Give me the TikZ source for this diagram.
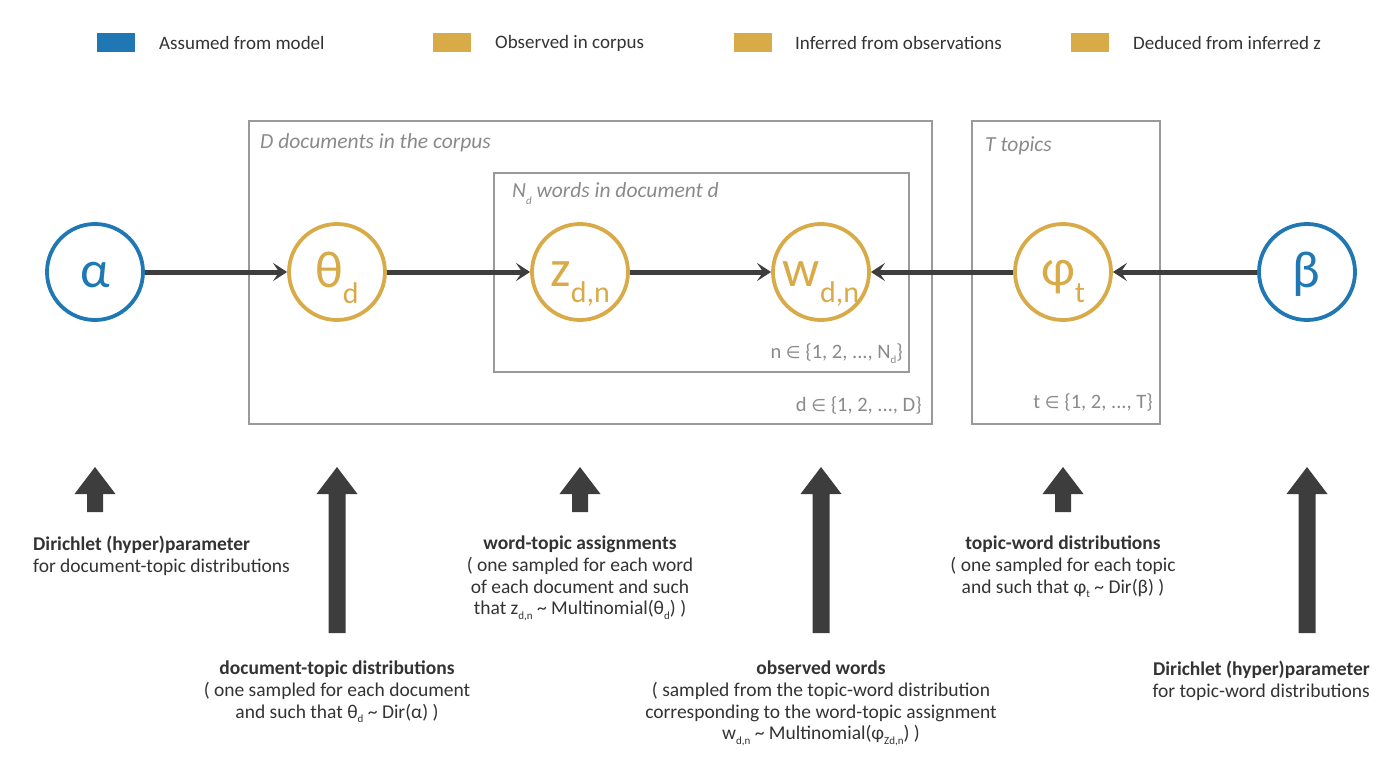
\documentclass[tikz,border=0pt]{standalone}
\usepackage{fontspec}
\setmainfont{Carlito}
\newfontfamily\dvs{DejaVu Sans}
\usetikzlibrary{arrows.meta}
\definecolor{mblue}{HTML}{1F77B4}
\definecolor{mgold}{HTML}{D9AB48}
\definecolor{dark}{HTML}{3D3D3D}
\definecolor{platec}{HTML}{9A9A9A}
\definecolor{ptext}{HTML}{8A8A8A}
\definecolor{txt}{HTML}{333333}
\newcommand\sbs[1]{\raisebox{-0.5ex}{\fontsize{11}{11}\selectfont #1}}
\newcommand\bsub[1]{\raisebox{-17pt}{\fontsize{30}{30}\selectfont #1}}
\newcommand\elt{{\dvs\fontsize{17}{17}\selectfont ∈}}
\newcommand\blockarrow[3]{%
  \fill[dark] ({#1-#3},#2) -- ({#1-#3},494) -- ({#1-20.5},494) -- (#1,467)
    -- ({#1+20.5},494) -- ({#1+#3},494) -- ({#1+#3},#2) -- cycle;}
\begin{document}
\begin{tikzpicture}[x=1pt,y=-1pt,
  var/.style={circle, draw, line width=3.8pt, minimum size=96pt, inner sep=0pt},
  assumed/.style={var, draw=mblue},
  inferred/.style={var, draw=mgold},
  biglab/.style={font=\fontsize{52}{52}\selectfont, inner sep=0pt, anchor=base},
  edge/.style={draw=dark, line width=5pt, -{Stealth[length=14pt,width=18pt,inset=6pt]}},
  platebox/.style={draw=platec, line width=1.3pt},
  ptxt/.style={text=ptext, font=\fontsize{21.5}{21.5}\selectfont\itshape, inner sep=0pt},
  rtxt/.style={text=ptext, font=\fontsize{20.5}{20.5}\selectfont, inner sep=0pt, anchor=base east},
  legbox/.style={inner sep=0pt, minimum width=38pt, minimum height=19pt},
  legtxt/.style={text=txt, font=\fontsize{19}{19}\selectfont, inner sep=0pt, anchor=west},
  desc/.style={text=txt, font=\fontsize{19.5}{21.7}\selectfont, inner sep=0pt, anchor=north, align=center}
]
\useasboundingbox (0,0) rectangle (1400,778);

% legend
\node[legbox, fill=mblue] (lg1) at (116,43) {};
\node[legtxt] (lt1) at (159,43) {Assumed from model};
\node[legbox, fill=mgold] (lg2) at (452,43) {};
\node[legtxt] (lt2) at (495,43) {Observed in corpus};
\node[legbox, fill=mgold] (lg3) at (753,43) {};
\node[legtxt] (lt3) at (795,43) {Inferred from observations};
\node[legbox, fill=mgold] (lg4) at (1090,43) {};
\node[legtxt] (lt4) at (1133,43) {Deduced from inferred z};

% plates
\draw[platebox] (249,121) rectangle (932,424);
\draw[platebox] (494,173) rectangle (909,372);
\draw[platebox] (972,121) rectangle (1160,424);
\node[ptxt, anchor=base west] (dl) at (260,149) {D documents in the corpus};
\node[ptxt, anchor=base west] (nl) at (512,198) {N\raisebox{-0.6ex}{\fontsize{11}{11}\selectfont d} words in document d};
\node[ptxt, anchor=base west] (tl) at (985,152) {T topics};
\node[rtxt] (dr) at (922,411) {d \elt\ \{1, 2, ..., D\}};
\node[rtxt] (nr) at (903,358) {n \elt\ \{1, 2, ..., N\raisebox{-0.6ex}{\fontsize{11}{11}\selectfont d}\}};
\node[rtxt] (tr) at (1153,408) {t \elt\ \{1, 2, ..., T\}};

% variables
\node[assumed] (alpha) at (95,272) {};
\node[inferred] (theta) at (337,272) {};
\node[inferred] (z) at (580,272) {};
\node[inferred] (w) at (821,272) {};
\node[inferred] (phi) at (1063,272) {};
\node[assumed] (beta) at (1307,272) {};

\node[biglab, text=mblue] (alphaL) at (95,287) {α};
\node[biglab, text=mgold] (thetaL) at (337,287) {θ\bsub{d}};
\node[biglab, text=mgold] (zL) at (580,286) {z\bsub{d,n}};
\node[biglab, text=mgold] (wL) at (821,286) {w\bsub{d,n}};
\node[biglab, text=mgold] (phiL) at (1063,285) {φ\bsub{t}};
\node[biglab, text=mblue] (betaL) at (1306,287) {β};

\draw[edge] (alpha) -- (theta);
\draw[edge] (theta) -- (z);
\draw[edge] (z) -- (w);
\draw[edge] (phi) -- (w);
\draw[edge] (beta) -- (phi);

% block arrows
\blockarrow{95}{512}{8}
\blockarrow{580}{512}{8}
\blockarrow{1063}{512}{8}
\blockarrow{337}{633}{8.5}
\blockarrow{821}{633}{8.5}
\blockarrow{1307}{633}{8.5}

% descriptions
\node[desc, anchor=north west, align=left] (d1) at (33,536) {\textbf{Dirichlet (hyper)parameter}\\for document-topic distributions};
\node[desc] (d2) at (580,536) {\textbf{word-topic assignments}\\( one sampled for each word\\of each document and such\\that z\sbs{d,n} \textasciitilde\ Multinomial(θ\sbs{d}) )};
\node[desc] (d3) at (1063,536) {\textbf{topic-word distributions}\\( one sampled for each topic\\and such that φ\sbs{t} \textasciitilde\ Dir(β) )};
\node[desc] (d4) at (337,661) {\textbf{document-topic distributions}\\( one sampled for each document\\and such that θ\sbs{d} \textasciitilde\ Dir(α) )};
\node[desc] (d5) at (821,661) {\textbf{observed words}\\( sampled from the topic-word distribution\\corresponding to the word-topic assignment\\w\sbs{d,n} \textasciitilde\ Multinomial(φ\sbs{Zd,n}) )};
\node[desc, anchor=north east, align=right] (d6) at (1370,661) {\textbf{Dirichlet (hyper)parameter}\\for topic-word distributions};
\end{tikzpicture}
\end{document}
